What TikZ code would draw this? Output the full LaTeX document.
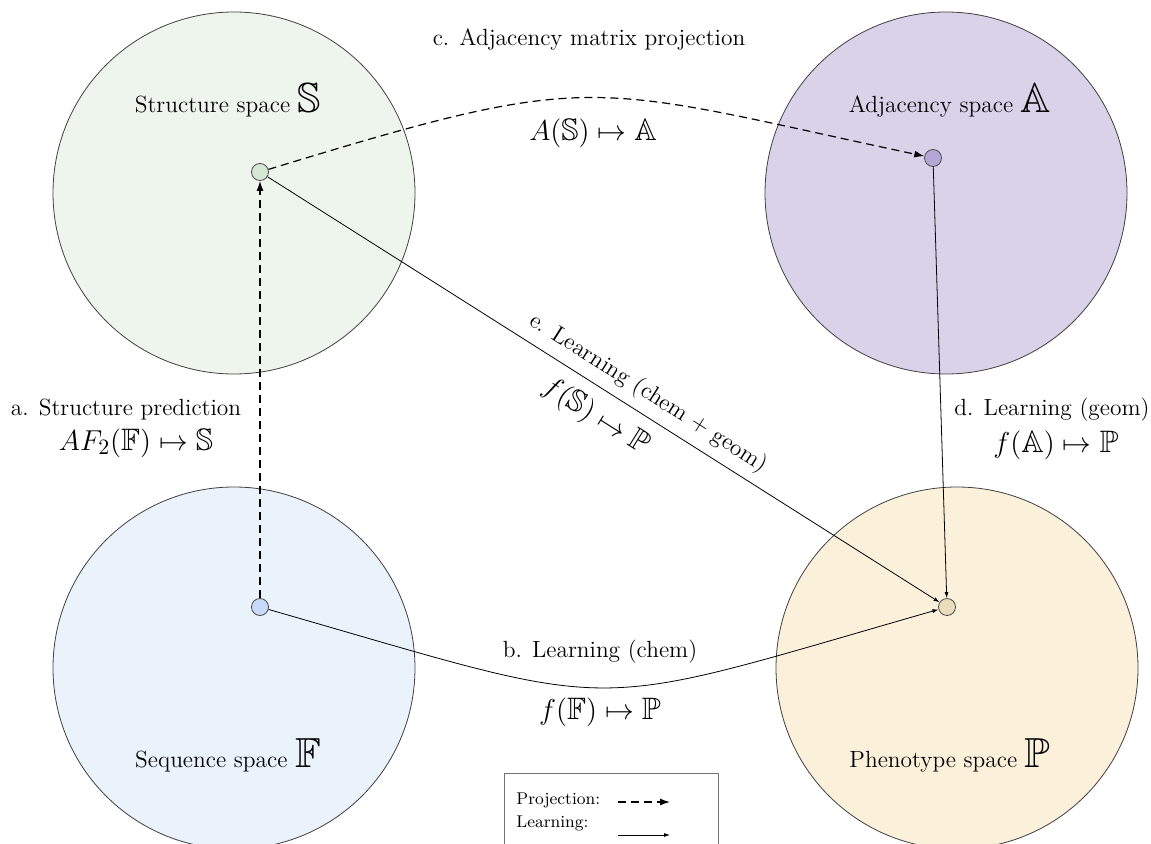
\documentclass[tikz,border=0pt]{standalone}
\usepackage{amssymb}
\usetikzlibrary{arrows.meta, positioning}
\definecolor{strucbg}{HTML}{EEF5EC}
\definecolor{adjbg}{HTML}{D9D2E9}
\definecolor{seqbg}{HTML}{EAF2FC}
\definecolor{phenbg}{HTML}{FBF0DA}
\definecolor{strucdot}{HTML}{D5E8D4}
\definecolor{adjdot}{HTML}{B4A7D6}
\definecolor{seqdot}{HTML}{C9DAF8}
\definecolor{phendot}{HTML}{EADDBB}
\newcommand{\bbsym}[1]{{\fontsize{21}{21}\selectfont$\mathbb{#1}$}}

\begin{document}
\begin{tikzpicture}[x=0.5pt, y=0.5pt,
    space/.style={circle, draw=black!75, thin, minimum size=181pt,
        inner sep=0pt},
    dot/.style={circle, draw=black!70, thin, minimum size=8.5pt,
        inner sep=0pt},
    lbl/.style={font=\fontsize{11.7}{14}\selectfont},
    maplbl/.style={font=\fontsize{15.5}{18}\selectfont},
    legtxt/.style={font=\fontsize{8.5}{10}\selectfont, inner sep=1pt},
    proj/.style={semithick, dash pattern=on 4pt off 2.5pt,
        -{Latex[length=5pt,width=3.5pt]}},
    learn/.style={thin, -{Latex[length=3pt,width=2pt]}}]
    \useasboundingbox (0,0) rectangle (1151,843);

    % the four spaces
    \node[space, fill=strucbg] (Sc) at (234,650) {};
    \node[space, fill=adjbg]   (Ac) at (946,650) {};
    \node[space, fill=seqbg]   (Fc) at (234,175) {};
    \node[space, fill=phenbg]  (Pc) at (957,175) {};

    \node[lbl] (Stxt) at (228,743) {Structure space \bbsym{S}};
    \node[lbl] (Atxt) at (950,743) {Adjacency space \bbsym{A}};
    \node[lbl] (Ftxt) at (228,88) {Sequence space \bbsym{F}};
    \node[lbl] (Ptxt) at (950,88) {Phenotype space \bbsym{P}};

    \node[dot, fill=strucdot] (S) at (260,671) {};
    \node[dot, fill=adjdot]   (A) at (933,685) {};
    \node[dot, fill=seqdot]   (F) at (260,236) {};
    \node[dot, fill=phendot]  (P) at (947,236) {};

    % maps
    \draw[proj] (F) -- (S);
    \draw[proj] (S) to[out=17, in=168, looseness=1.35] (A);
    \draw[learn] (S) -- node[pos=0.55, sloped, above=1pt, lbl] {e. Learning (chem + geom)}
        node[pos=0.51, sloped, below=3pt, maplbl] {$f(\mathbb{S}) \mapsto \mathbb{P}$} (P);
    \draw[learn] (A) -- (P);
    \draw[learn] (F) to[out=-16, in=196, looseness=1.45] (P);

    \node[lbl] (aTxt) at (126,433) {a. Structure prediction};
    \node[maplbl] (aMap) at (136,400) {$AF_2(\mathbb{F}) \mapsto \mathbb{S}$};
    \node[lbl] (bTxt) at (600,191) {b. Learning (chem)};
    \node[maplbl] (bMap) at (600,131) {$f(\mathbb{F}) \mapsto \mathbb{P}$};
    \node[lbl] (cTxt) at (589,803) {c. Adjacency matrix projection};
    \node[maplbl] (cMap) at (593,710) {$A(\mathbb{S}) \mapsto \mathbb{A}$};
    \node[lbl] (dTxt) at (1052,433) {d. Learning (geom)};
    \node[maplbl] (dMap) at (1056,398) {$f(\mathbb{A}) \mapsto \mathbb{P}$};

    % legend
    \draw[black!55] (504,70) rectangle (718,-10);
    \node[legtxt, anchor=west] (projTxt) at (514,43) {Projection:};
    \node[legtxt, anchor=west] (learnTxt) at (514,20) {Learning:};
    \coordinate (p0) at (618,41);
    \coordinate (p1) at (670,41);
    \coordinate (l0) at (618,8);
    \coordinate (l1) at (670,8);
    \draw[proj] (p0) -- (p1);
    \draw[learn] (l0) -- (l1);

\end{tikzpicture}
\end{document}
